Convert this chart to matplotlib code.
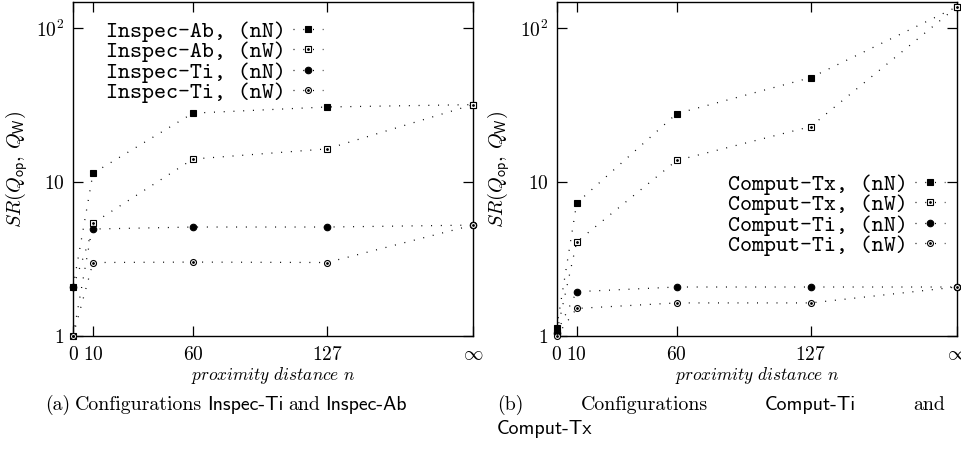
import numpy as np
import matplotlib
matplotlib.use("Agg")
import matplotlib.pyplot as plt
from matplotlib.legend_handler import HandlerTuple

plt.rcParams['mathtext.fontset'] = 'cm'
plt.rcParams['font.family'] = ['cmr10', 'DejaVu Serif']
plt.rcParams['axes.formatter.use_mathtext'] = True

# x positions: 0, 10, 60, 127 and "infinity" drawn at 200
x_vals = [0, 10, 60, 127, 200]
x_ticklabels = [r'$0$', r'$10$', r'$60$', r'$127$', r'$\infty$']

# (a) Inspec
inspec_labels = ["Inspec-Ab, (nN)", "Inspec-Ab, (nW)", "Inspec-Ti, (nN)", "Inspec-Ti, (nW)"]
inspec_ab_nN = [2.07, 11.4, 28.0, 30.7, 31.8]
inspec_ab_nW = [1.0, 5.4, 14.1, 16.4, 31.8]
inspec_ti_nN = [2.07, 4.95, 5.1, 5.1, 5.25]
inspec_ti_nW = [1.0, 3.0, 3.02, 3.0, 5.25]

# (b) Comput
comput_labels = ["Comput-Tx, (nN)", "Comput-Tx, (nW)", "Comput-Ti, (nN)", "Comput-Ti, (nW)"]
comput_tx_nN = [1.13, 7.3, 27.8, 47.6, 137.0]
comput_tx_nW = [1.05, 4.08, 13.8, 22.9, 137.0]
comput_ti_nN = [1.05, 1.94, 2.08, 2.08, 2.08]
comput_ti_nW = [1.0, 1.51, 1.64, 1.64, 2.08]

styles = [dict(marker='s', ms=4.7, mfc='black', mec='black', dot=False),
          dict(marker='s', ms=4.3, mfc='white', mec='black', dot=True),
          dict(marker='o', ms=4.7, mfc='black', mec='black', dot=False),
          dict(marker='o', ms=4.3, mfc='white', mec='black', dot=True)]

DOTS = (0, (0.8, 7.0))


def draw_panel(ax, series, labels, legend_loc, legend_anchor):
    handles = []
    for ys, st in zip(series, styles):
        ln, = ax.plot(x_vals, ys, color='black', lw=0.9, ls=DOTS, marker=st['marker'],
                      ms=st['ms'], mfc=st['mfc'], mec=st['mec'], mew=0.8, clip_on=False, zorder=3)
        if st['dot']:
            dt, = ax.plot(x_vals, ys, ls='none', marker='o', ms=1.0, color='black',
                          clip_on=False, zorder=4)
            handles.append((ln, dt))
        else:
            handles.append(ln)
    ax.set_yscale('log')
    ax.set_xlim(0, 200)
    ax.set_ylim(1, 147.5)
    ax.minorticks_off()
    ax.set_xticks(x_vals)
    ax.set_xticklabels(x_ticklabels)
    ax.set_yticks([1, 10, 100])
    ax.set_yticklabels([r'$1$', r'$10$', r'$10^2$'])
    ax.tick_params(direction='in', length=7.2, width=0.9, top=True, right=True,
                   labelsize=14, color='black')
    ax.tick_params(axis='x', pad=7)
    ax.tick_params(axis='y', pad=6)
    for sp in ax.spines.values():
        sp.set_linewidth(1.0)
    ax.set_xlabel(r'$proximity\ distance\ n$', fontsize=12.5, labelpad=1)
    ax.set_ylabel(r'$SR(Q_{\mathsf{op}},\,Q_{\mathsf{W}})$', fontsize=14.5)
    leg = ax.legend(handles, labels, loc=legend_loc, bbox_to_anchor=legend_anchor,
                    markerfirst=False, frameon=False, handlelength=1.3, handletextpad=0.3,
                    labelspacing=-0.03, borderaxespad=0.0, borderpad=0.0,
                    handler_map={tuple: HandlerTuple(ndivide=1)},
                    prop={'family': 'cmtt10', 'size': 16.5})
    return leg


fig = plt.figure(figsize=(9.62, 4.69), dpi=100)
ax1 = fig.add_axes([73 / 962, 1 - 336 / 469, 400 / 962, 334 / 469])
ax2 = fig.add_axes([556.7 / 962, 1 - 336 / 469, 400 / 962, 334 / 469])

draw_panel(ax1, [inspec_ab_nN, inspec_ab_nW, inspec_ti_nN, inspec_ti_nW], inspec_labels,
           'upper left', (33 / 400, 1 - 19 / 334))
draw_panel(ax2, [comput_tx_nN, comput_tx_nW, comput_ti_nN, comput_ti_nW], comput_labels,
           'upper right', (1 - 12 / 400, 1 - 172 / 334))

ax1.yaxis.set_label_coords(-0.107, 0.5)
ax2.yaxis.set_label_coords(-0.112, 0.5)

# captions, laid out word by word
CAP = 14.3
cap_y1 = 1 - 405 / 469
cap_y2 = 1 - 429 / 469
renderer = fig.canvas.get_renderer()


def word(x_px, y, s, fam, ha='left'):
    t = fig.text(x_px / 962, y, s, fontsize=CAP, va='center', ha=ha, family=fam)
    return t, t.get_window_extent(renderer).width


space_px = 5.0
x = 45
for s, fam in [('(a)', 'cmr10'), ('Configurations', 'cmr10'), ('Inspec-Ti', 'cmss10'),
               ('and', 'cmr10'), ('Inspec-Ab', 'cmss10')]:
    t, w = word(x, cap_y1, s, fam)
    x += w + space_px

# (b) line is justified between 497 and 945
words_b = [('(b)', 'cmr10'), ('Configurations', 'cmr10'), ('Comput-Ti', 'cmss10'), ('and', 'cmr10')]
texts_b = [word(0, cap_y1, s, fam) for s, fam in words_b]
total_w = sum(w for _, w in texts_b)
gap = (945 - 497 - total_w) / (len(texts_b) - 1)
x = 497
for t, w in texts_b:
    t.set_x(x / 962)
    x += w + gap
word(497, cap_y2, 'Comput-Tx', 'cmss10')

fig.savefig('out.png', dpi=100)
